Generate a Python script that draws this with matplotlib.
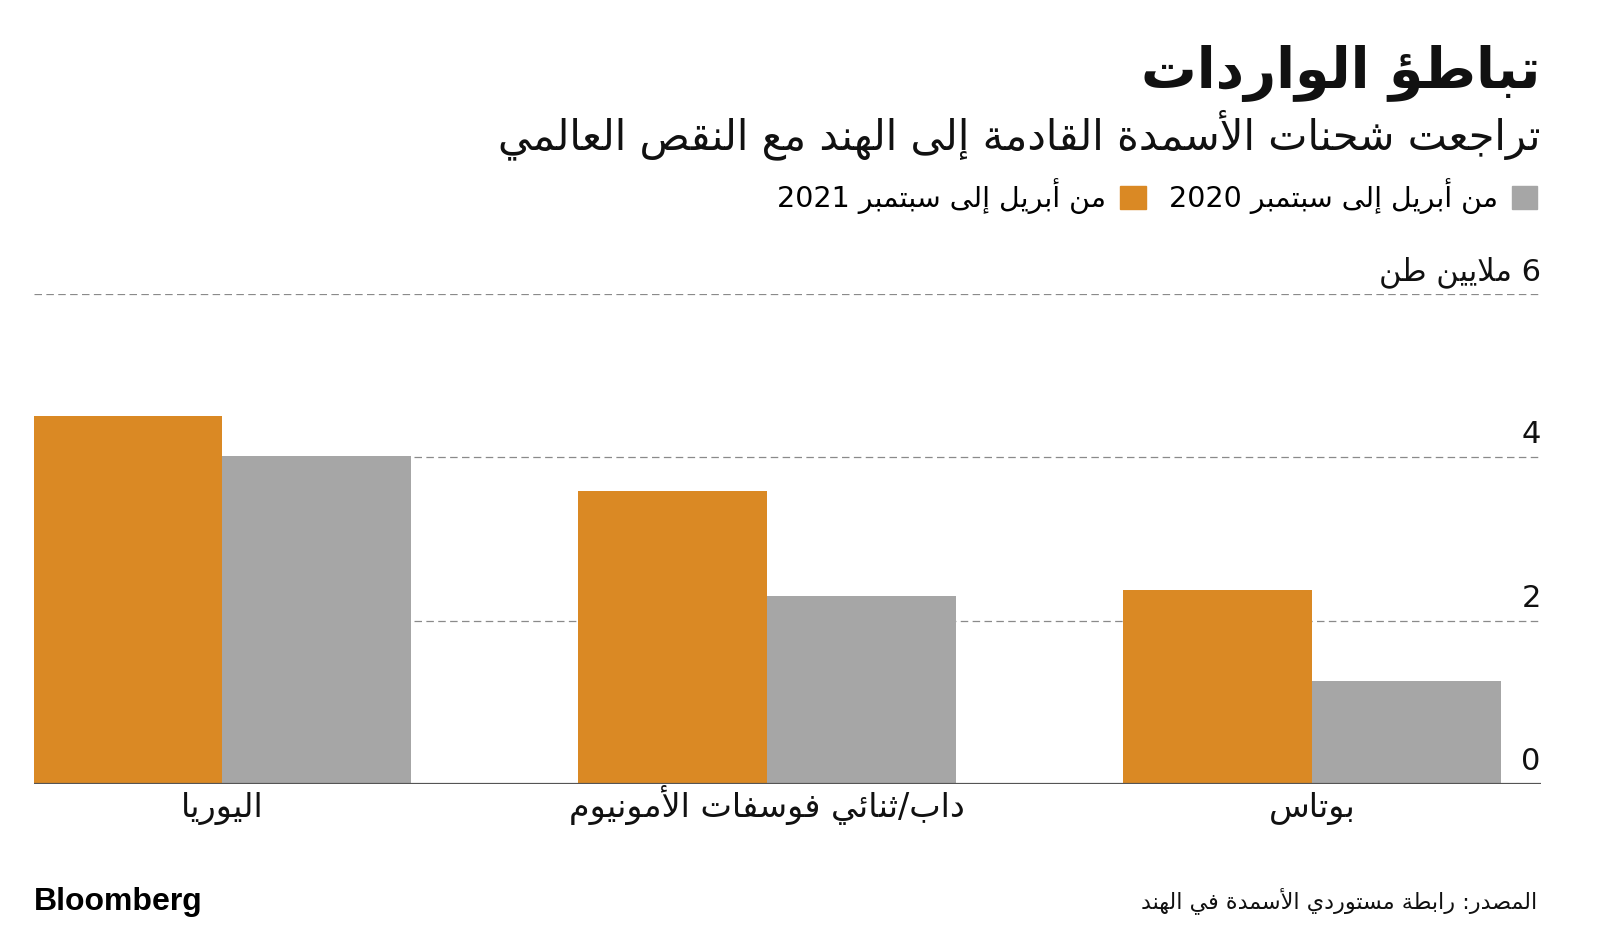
import re
import numpy as np
import matplotlib
matplotlib.use("Agg")
import matplotlib.pyplot as plt
from matplotlib.patches import Patch
import matplotlib.transforms as mtransforms

# --- data -----------------------------------------------------------------
categories = ["اليوريا", "داب/ثنائي فوسفات الأمونيوم", "بوتاس"]
orange_vals = [4.51, 3.59, 2.38]   # legend: من أبريل إلى سبتمبر 2021
gray_vals = [4.01, 2.30, 1.26]     # legend: من أبريل إلى سبتمبر 2020
orange_label = "من أبريل إلى سبتمبر 2021"
gray_label = "من أبريل إلى سبتمبر 2020"
yticks = [0, 2, 4, 6]
ytick_labels = ["0", "2", "4", "6 ملايين طن"]

title = "تباطؤ الواردات"
subtitle = "تراجعت شحنات الأسمدة القادمة إلى الهند مع النقص العالمي"
source = "المصدر: رابطة مستوردي الأسمدة في الهند"

ORANGE = "#DA8924"
GRAY = "#A6A6A6"

# --- tiny arabic shaper (matplotlib has no complex text layout) -----------
BASES = {
    'آ': 0xFE81, 'أ': 0xFE83, 'ؤ': 0xFE85, 'إ': 0xFE87, 'ئ': 0xFE89, 'ا': 0xFE8D,
    'ب': 0xFE8F, 'ة': 0xFE93, 'ت': 0xFE95, 'ث': 0xFE99, 'ج': 0xFE9D, 'ح': 0xFEA1,
    'خ': 0xFEA5, 'د': 0xFEA9, 'ذ': 0xFEAB, 'ر': 0xFEAD, 'ز': 0xFEAF, 'س': 0xFEB1,
    'ش': 0xFEB5, 'ص': 0xFEB9, 'ض': 0xFEBD, 'ط': 0xFEC1, 'ظ': 0xFEC5, 'ع': 0xFEC9,
    'غ': 0xFECD, 'ف': 0xFED1, 'ق': 0xFED5, 'ك': 0xFED9, 'ل': 0xFEDD, 'م': 0xFEE1,
    'ن': 0xFEE5, 'ه': 0xFEE9, 'و': 0xFEED, 'ى': 0xFEEF, 'ي': 0xFEF1,
}
RIGHT_ONLY = set('آأؤإاةدذرزوى')
LAM_ALEF = {'آ': 0xFEF5, 'أ': 0xFEF7, 'إ': 0xFEF9, 'ا': 0xFEFB}


def shape(text):
    toks = []
    i = 0
    while i < len(text):
        c = text[i]
        if c == 'ل' and i + 1 < len(text) and text[i + 1] in LAM_ALEF:
            toks.append(('LA', text[i + 1]))
            i += 2
        else:
            toks.append(c)
            i += 1
    out = []
    for k, t in enumerate(toks):
        prev = toks[k - 1] if k > 0 else None
        nxt = toks[k + 1] if k + 1 < len(toks) else None
        joins_prev = isinstance(prev, str) and prev in BASES and prev not in RIGHT_ONLY
        if isinstance(t, tuple):
            out.append(chr(LAM_ALEF[t[1]] + (1 if joins_prev else 0)))
        elif t in BASES:
            joins_next = t not in RIGHT_ONLY and (
                isinstance(nxt, tuple) or (isinstance(nxt, str) and nxt in BASES))
            if joins_prev and joins_next:
                off = 3
            elif joins_prev:
                off = 1
            elif joins_next:
                off = 2
            else:
                off = 0
            out.append(chr(BASES[t] + off))
        else:
            out.append(t)
    return ''.join(out)


def rtl(text):
    s = shape(text)[::-1]
    return re.sub(r'[0-9]+', lambda m: m.group(0)[::-1], s)


plt.rcParams['font.family'] = ['DejaVu Sans']

fig = plt.figure(figsize=(16, 9.3), dpi=100)
ax = fig.add_axes([0.021, 0.157, 0.942, 0.527])

x = np.arange(len(categories))
w = 0.3463
ax.bar(x - w / 2, orange_vals, w, color=ORANGE, zorder=3, label=rtl(orange_label))
ax.bar(x + w / 2, gray_vals, w, color=GRAY, zorder=3, label=rtl(gray_label))

ax.set_xlim(-w, 2.42)
ax.set_ylim(0, 6)

# dashed grid + labels sitting above the lines at the right
for v, lab in zip(yticks, ytick_labels):
    if v == 0:
        ax.axhline(0, color="#555555", lw=1.6, zorder=4)
    else:
        ax.axhline(v, color="#8a8a8a", lw=0.9, ls=(0, (6, 3.5)), zorder=1)
    tr = mtransforms.offset_copy(ax.get_yaxis_transform(), fig=fig, y=10, units='points')
    ax.text(1.0, v, rtl(lab), transform=tr, ha='right', va='baseline',
            fontsize=22, color="#111111")

ax.set_yticks([])
ax.set_xticks(x)
ax.set_xticklabels([rtl(c) for c in categories], fontsize=24, color="#111111",
                   va='baseline')
ax.tick_params(axis='x', length=0, pad=24)
for s in ax.spines.values():
    s.set_visible(False)

# header
fig.text(0.963, 0.905, rtl(title), ha='right', va='baseline', fontsize=40,
         fontweight='bold', color="#111111")
fig.text(0.963, 0.839, rtl(subtitle), ha='right', va='baseline', fontsize=30,
         color="#111111")

handles = [Patch(color=ORANGE), Patch(color=GRAY)]
fig.legend(handles, [rtl(orange_label), rtl(gray_label)], ncol=2, markerfirst=False,
           loc='center right', bbox_to_anchor=(0.968, 0.789), frameon=False,
           fontsize=20.5, handlelength=0.9, handleheight=0.9, handletextpad=0.5,
           columnspacing=0.8, borderaxespad=0)

# footer
fig.text(0.961, 0.024, rtl(source), ha='right', va='baseline', fontsize=16,
         color="#111111")
fig.text(0.021, 0.021, "Bloomberg", ha='left', va='baseline', fontsize=23,
         fontweight='bold', family='Liberation Sans', color="#000000")

fig.savefig("out.png", dpi=100, facecolor='white')
